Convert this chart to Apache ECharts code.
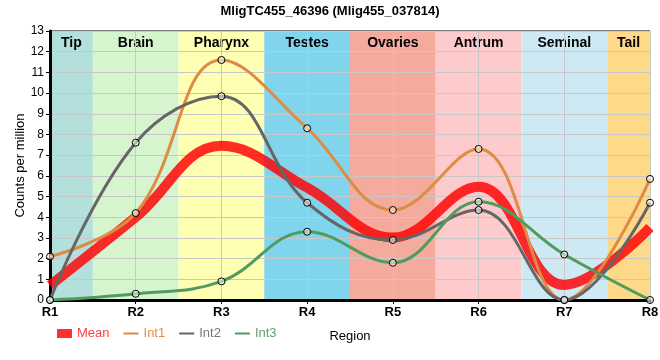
<!DOCTYPE html>
<html><head><meta charset="utf-8">
<script src="https://cdn.jsdelivr.net/npm/echarts@6/dist/echarts.min.js"></script>
<style>html,body{margin:0;padding:0;background:#fff}#c{width:660px;height:360px}</style>
</head><body><div id="c"></div>
<script>
var categories = ['R1','R2','R3','R4','R5','R6','R7','R8'];
var meanVals = [0.7, 4.0, 7.45, 5.43, 3.02, 5.47, 0.73, 3.5];
var int1Vals = [2.1, 4.2, 11.6, 8.3, 4.35, 7.3, 0, 5.85];
var int2Vals = [0, 7.6, 9.85, 4.7, 2.9, 4.35, 0, 4.7];
var int3Vals = [0, 0.3, 0.9, 3.3, 1.8, 4.75, 2.2, 0];
var regionNames = ['Tip','Brain','Pharynx','Testes','Ovaries','Antrum','Seminal','Tail'];
var regionStarts = [1, 1.5, 2.5, 3.5, 4.5, 5.5, 6.5, 7.5];
var regionEnds = [1.5, 2.5, 3.5, 4.5, 5.5, 6.5, 7.5, 8];
var regionColors = ['#b3e0dc','#d6f5cf','#ffffb3','#80d4ec','#f4aa9c','#fecbcc','#cde9f4','#fed98a'];

var FONT = "'Liberation Sans', Arial, sans-serif";
function pts(arr){ return arr.map(function(v,i){ return [i+1, v]; }); }

var bands = regionNames.map(function(n,i){
  return [{xAxis: regionStarts[i], name: n, itemStyle:{color: regionColors[i]}}, {xAxis: regionEnds[i]}];
});

var chart = echarts.init(document.getElementById('c'), null, {renderer:'canvas'});
function lineSeries(name, data, color){
  return {name:name, type:'line', data:pts(data), smooth:0.4,
    symbol:'circle', symbolSize:7, z:5,
    lineStyle:{color:color, width:3},
    itemStyle:{color:'rgba(255,255,255,0.5)', borderColor:'#000', borderWidth:1},
    emphasis:{disabled:true}};
}
var lineIcon = 'path://M0,0 L12,0 L12,1.6 L0,1.6 Z';
chart.setOption({
  animation:false,
  textStyle:{fontFamily:FONT},
  title:{text:'MligTC455_46396 (Mlig455_037814)', left:'center', top:0,
    textStyle:{fontFamily:FONT, fontSize:13, fontWeight:'bold', color:'#000'}},
  grid:{left:50, right:10, top:31, bottom:60, show:true, borderColor:'#000', borderWidth:1, z:1,
    containLabel:false, outerBoundsMode:'none'},
  legend:{left:52, top:322, itemWidth:15, itemHeight:9, itemGap:14,
    textStyle:{fontFamily:FONT, fontSize:13},
    data:[
      {name:'Mean', icon:'rect', itemStyle:{color:'#ff3030', borderWidth:0}, textStyle:{color:'#ff4040'}},
      {name:'Int1', icon:lineIcon, itemStyle:{color:'#dd8b45', borderWidth:0}, textStyle:{color:'#e0914c'}},
      {name:'Int2', icon:lineIcon, itemStyle:{color:'#666666', borderWidth:0}, textStyle:{color:'#777'}},
      {name:'Int3', icon:lineIcon, itemStyle:{color:'#529b5e', borderWidth:0}, textStyle:{color:'#5aa06a'}}
    ]},
  xAxis:{type:'value', min:1, max:8, interval:1, name:'Region', nameLocation:'middle', nameGap:30, z:3,
    nameTextStyle:{fontFamily:FONT, fontSize:13, color:'#000'},
    axisLine:{lineStyle:{color:'#000', width:3}},
    axisTick:{show:true, length:4, lineStyle:{color:'#000'}},
    axisLabel:{formatter:function(v){return categories[v-1]||'';}, fontFamily:FONT, fontSize:13, fontWeight:'bold', color:'#000', margin:6},
    splitLine:{show:true, lineStyle:{color:'#c8c8c8', width:1}}},
  yAxis:{type:'value', min:0, max:13, interval:1, name:'Counts per million', nameLocation:'middle', nameGap:23, z:3,
    nameMoveOverlap:false,
    nameTextStyle:{fontFamily:FONT, fontSize:13, color:'#000'},
    axisLine:{show:true, lineStyle:{color:'#000', width:3}},
    axisTick:{show:true, length:4, lineStyle:{color:'#000'}},
    axisLabel:{fontFamily:FONT, fontSize:12, color:'#000', margin:6},
    splitLine:{show:true, lineStyle:{color:'#c8c8c8', width:1}}},
  series:[
    {name:'bands', type:'line', data:[], z:1, silent:true,
      markArea:{silent:true, label:{show:true, position:'insideTop', distance:5, fontFamily:FONT, fontSize:14, fontWeight:'bold', color:'#000'},
        data:bands}},
    {name:'Mean', type:'line', data:pts(meanVals), smooth:0.4, showSymbol:false, symbol:'none', z:4,
      lineStyle:{color:'rgba(255,0,0,0.82)', width:10}, itemStyle:{color:'#ff3333'},
      emphasis:{disabled:true}},
    lineSeries('Int1', int1Vals, '#dd8b45'),
    lineSeries('Int2', int2Vals, '#666666'),
    lineSeries('Int3', int3Vals, '#529b5e')
  ]
});
</script></body></html>
